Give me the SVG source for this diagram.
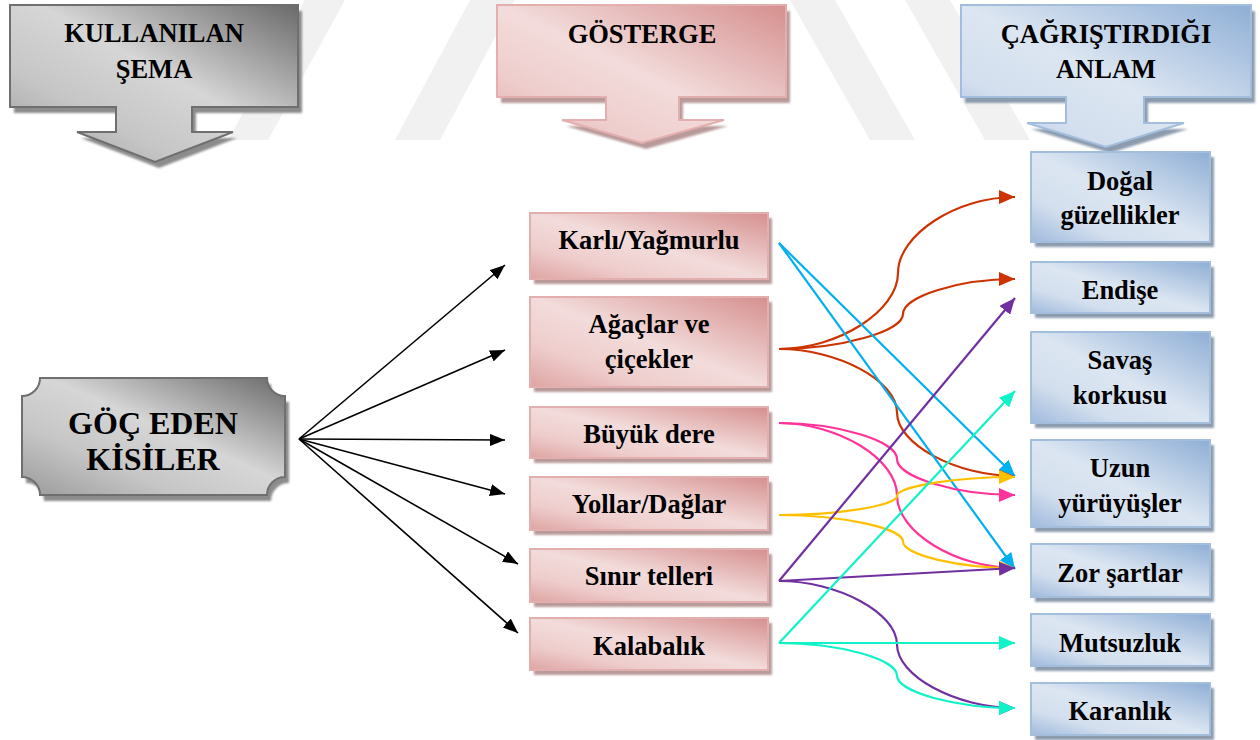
<svg xmlns="http://www.w3.org/2000/svg" width="1260" height="740" viewBox="0 0 1260 740" font-family="'Liberation Serif', 'Times New Roman', serif">
<defs>
<style>
text{font-family:'Liberation Serif','Times New Roman',serif;font-weight:700;fill:#000;text-anchor:middle}
.t26{font-size:26.5px}
.t32{font-size:32px}
.wm{fill:#f1f1f1}
.grayF{fill:url(#gGray);stroke:#6f6f6f;stroke-width:2}
.pinkF{fill:url(#gPink);stroke:#e3aeae;stroke-width:2}
.blueF{fill:url(#gBlue);stroke:#a3bddd;stroke-width:2}
.shGray{fill:#8c8c8c;filter:url(#blur)}
.shPink{fill:#b99a9a;filter:url(#blur)}
.shBlue{fill:#8d9bae;filter:url(#blur)}
.blk{fill:none;stroke:#000;stroke-width:1.6;marker-end:url(#mBlk)}
.c{fill:none;stroke-width:2.2}
</style>
<filter id="blur" x="-10%" y="-10%" width="120%" height="120%"><feGaussianBlur stdDeviation="1"/></filter>
<linearGradient id="gGray" x1="1" y1="0" x2="0" y2="1">
<stop offset="0" stop-color="#6a6a6a"/><stop offset="0.45" stop-color="#d6d6d6"/><stop offset="0.7" stop-color="#c6c6c6"/><stop offset="1" stop-color="#9a9a9a"/>
</linearGradient>
<linearGradient id="gPink" x1="1" y1="0" x2="0" y2="1">
<stop offset="0" stop-color="#d58f8e"/><stop offset="0.5" stop-color="#f2dcdb"/><stop offset="0.75" stop-color="#eecdcc"/><stop offset="1" stop-color="#dea4a3"/>
</linearGradient>
<linearGradient id="gBlue" x1="1" y1="0" x2="0" y2="1">
<stop offset="0" stop-color="#8eaed5"/><stop offset="0.5" stop-color="#dce6f2"/><stop offset="0.75" stop-color="#d3dfee"/><stop offset="1" stop-color="#9fbadd"/>
</linearGradient>
<marker id="mBlk" markerUnits="userSpaceOnUse" markerWidth="15" markerHeight="12" viewBox="0 0 15 12" refX="15" refY="6" orient="auto"><path d="M0,0 L15,6 L0,12 z" fill="#000"/></marker>
<marker id="mOr" markerUnits="userSpaceOnUse" markerWidth="16" markerHeight="14" viewBox="0 0 16 14" refX="16" refY="7" orient="auto"><path d="M0,0 L16,7 L0,14 z" fill="#cc3300"/></marker>
<marker id="mCy" markerUnits="userSpaceOnUse" markerWidth="16" markerHeight="14" viewBox="0 0 16 14" refX="16" refY="7" orient="auto"><path d="M0,0 L16,7 L0,14 z" fill="#00b0f0"/></marker>
<marker id="mPk" markerUnits="userSpaceOnUse" markerWidth="16" markerHeight="14" viewBox="0 0 16 14" refX="16" refY="7" orient="auto"><path d="M0,0 L16,7 L0,14 z" fill="#ff3399"/></marker>
<marker id="mYe" markerUnits="userSpaceOnUse" markerWidth="16" markerHeight="14" viewBox="0 0 16 14" refX="16" refY="7" orient="auto"><path d="M0,0 L16,7 L0,14 z" fill="#ffc000"/></marker>
<marker id="mPu" markerUnits="userSpaceOnUse" markerWidth="16" markerHeight="14" viewBox="0 0 16 14" refX="16" refY="7" orient="auto"><path d="M0,0 L16,7 L0,14 z" fill="#7030a0"/></marker>
<marker id="mAq" markerUnits="userSpaceOnUse" markerWidth="16" markerHeight="14" viewBox="0 0 16 14" refX="16" refY="7" orient="auto"><path d="M0,0 L16,7 L0,14 z" fill="#10f2c8"/></marker>
</defs>
<rect x="0" y="0" width="1260" height="740" fill="#fff"/>

<!-- faint background watermark -->
<g id="watermark">
<polygon class="wm" points="228,140 268,140 345,0 305,0"/>
<polygon class="wm" points="395,140 440,140 515,0 470,0"/>
<polygon class="wm" points="790,0 835,0 915,140 870,140"/>
<polygon class="wm" points="905,0 950,0 1030,140 985,140"/>
</g>

<!-- header callouts -->
<g id="hdr-sema">
<polygon class="shGray" transform="translate(4,6)" points="10,5 298,5 298,107 192,107 192,132 233,132 155,162 77,132 116,132 116,107 10,107"/>
<polygon class="grayF" points="10,5 298,5 298,107 192,107 192,132 233,132 155,162 77,132 116,132 116,107 10,107"/>
<text class="t26" x="154" y="42">KULLANILAN</text>
<text class="t26" x="154" y="78">ŞEMA</text>
</g>
<g id="hdr-gosterge">
<polygon class="shPink" transform="translate(4,6)" points="497,5 786,5 786,97 679,97 679,120 724,120 642,143 562,120 606,120 606,97 497,97"/>
<polygon class="pinkF" points="497,5 786,5 786,97 679,97 679,120 724,120 642,143 562,120 606,120 606,97 497,97"/>
<text class="t26" x="642" y="43">GÖSTERGE</text>
</g>
<g id="hdr-anlam">
<polygon class="shBlue" transform="translate(4,6)" points="961,5 1251,5 1251,97 1144,97 1144,123 1184,123 1106,147 1027,123 1066,123 1066,97 961,97"/>
<polygon class="blueF" points="961,5 1251,5 1251,97 1144,97 1144,123 1184,123 1106,147 1027,123 1066,123 1066,97 961,97"/>
<text class="t26" x="1106" y="43">ÇAĞRIŞTIRDIĞI</text>
<text class="t26" x="1106" y="78">ANLAM</text>
</g>

<!-- source node -->
<g id="goc-eden">
<path class="shGray" transform="translate(4,6)" d="M40,378 L267,378 A18,18 0 0 0 285,396 L285,477 A18,18 0 0 0 267,495 L40,495 A18,18 0 0 0 22,477 L22,396 A18,18 0 0 0 40,378 Z"/>
<path class="grayF" d="M40,378 L267,378 A18,18 0 0 0 285,396 L285,477 A18,18 0 0 0 267,495 L40,495 A18,18 0 0 0 22,477 L22,396 A18,18 0 0 0 40,378 Z"/>
<text class="t32" x="153" y="434">GÖÇ EDEN</text>
<text class="t32" x="153" y="470">KİSİLER</text>
</g>

<!-- middle nodes -->
<g id="karli">
<rect class="shPink" x="534" y="218" width="238" height="66"/>
<rect class="pinkF" x="530" y="213" width="238" height="66"/>
<text class="t26" x="649" y="249">Karlı/Yağmurlu</text>
</g>
<g id="agaclar">
<rect class="shPink" x="534" y="302" width="238" height="90"/>
<rect class="pinkF" x="530" y="297" width="238" height="90"/>
<text class="t26" x="649" y="333">Ağaçlar ve</text>
<text class="t26" x="649" y="368">çiçekler</text>
</g>
<g id="buyuk-dere">
<rect class="shPink" x="534" y="412" width="238" height="51"/>
<rect class="pinkF" x="530" y="407" width="238" height="51"/>
<text class="t26" x="649" y="443">Büyük dere</text>
</g>
<g id="yollar">
<rect class="shPink" x="534" y="482" width="238" height="53"/>
<rect class="pinkF" x="530" y="477" width="238" height="53"/>
<text class="t26" x="649" y="513">Yollar/Dağlar</text>
</g>
<g id="sinir">
<rect class="shPink" x="534" y="554" width="238" height="53"/>
<rect class="pinkF" x="530" y="549" width="238" height="53"/>
<text class="t26" x="649" y="585">Sınır telleri</text>
</g>
<g id="kalabalik">
<rect class="shPink" x="534" y="623" width="238" height="52"/>
<rect class="pinkF" x="530" y="618" width="238" height="52"/>
<text class="t26" x="649" y="655">Kalabalık</text>
</g>

<!-- right nodes -->
<g id="dogal">
<rect class="shBlue" x="1035" y="157" width="179" height="90"/>
<rect class="blueF" x="1031" y="152" width="179" height="90"/>
<text class="t26" x="1120" y="190">Doğal</text>
<text class="t26" x="1120" y="224">güzellikler</text>
</g>
<g id="endise">
<rect class="shBlue" x="1035" y="267" width="179" height="51"/>
<rect class="blueF" x="1031" y="262" width="179" height="51"/>
<text class="t26" x="1120" y="299">Endişe</text>
</g>
<g id="savas">
<rect class="shBlue" x="1035" y="337" width="179" height="91"/>
<rect class="blueF" x="1031" y="332" width="179" height="91"/>
<text class="t26" x="1120" y="369">Savaş</text>
<text class="t26" x="1120" y="404">korkusu</text>
</g>
<g id="uzun">
<rect class="shBlue" x="1035" y="445" width="179" height="87"/>
<rect class="blueF" x="1031" y="440" width="179" height="87"/>
<text class="t26" x="1120" y="477">Uzun</text>
<text class="t26" x="1120" y="512">yürüyüşler</text>
</g>
<g id="zor">
<rect class="shBlue" x="1035" y="549" width="179" height="53"/>
<rect class="blueF" x="1031" y="544" width="179" height="53"/>
<text class="t26" x="1120" y="582">Zor şartlar</text>
</g>
<g id="mutsuzluk">
<rect class="shBlue" x="1035" y="619" width="179" height="52"/>
<rect class="blueF" x="1031" y="614" width="179" height="52"/>
<text class="t26" x="1120" y="652">Mutsuzluk</text>
</g>
<g id="karanlik">
<rect class="shBlue" x="1035" y="688" width="179" height="52"/>
<rect class="blueF" x="1031" y="683" width="179" height="52"/>
<text class="t26" x="1120" y="720">Karanlık</text>
</g>

<!-- connectors -->
<g id="connectors">
<path class="blk" d="M299,439 L505,265"/>
<path class="blk" d="M299,439 L505,350"/>
<path class="blk" d="M299,439 L505,440"/>
<path class="blk" d="M299,439 L505,494"/>
<path class="blk" d="M299,439 L518,564"/>
<path class="blk" d="M299,439 L518,633"/>

<path class="c" stroke="#cc3300" marker-end="url(#mOr)" d="M779,349 C838,349 898,311 898,273 C898,235 956,197 1015,197"/>
<path class="c" stroke="#cc3300" marker-end="url(#mOr)" d="M779,349 C840,349 903,331.5 903,314 C903,296.5 959,279 1015,279"/>
<path class="c" stroke="#cc3300" marker-end="url(#mOr)" d="M779,349 C838,349 897,380.75 897,412.5 C897,444.25 956,476 1015,476"/>

<path class="c" stroke="#00b0f0" marker-end="url(#mCy)" d="M779,243 L1015,476"/>
<path class="c" stroke="#00b0f0" marker-end="url(#mCy)" d="M779,243 L1015,569"/>

<path class="c" stroke="#ff3399" marker-end="url(#mPk)" d="M779,423 C838,423 897,441 897,459 C897,477 956,495 1015,495"/>
<path class="c" stroke="#ff3399" marker-end="url(#mPk)" d="M779,423 C838,423 897,459 897,495.5 C897,532 956,568 1015,568"/>

<path class="c" stroke="#ffc000" marker-end="url(#mYe)" d="M779,515 C838,515 897,505.5 897,496 C897,486.5 956,477 1015,477"/>
<path class="c" stroke="#ffc000" marker-end="url(#mYe)" d="M779,515 C840,515 903,528 903,541.5 C903,555 959,568 1015,568"/>

<path class="c" stroke="#7030a0" marker-end="url(#mPu)" d="M779,581 L1015,298"/>
<path class="c" stroke="#7030a0" marker-end="url(#mPu)" d="M779,581 L1015,568"/>
<path class="c" stroke="#7030a0" marker-end="url(#mPu)" d="M779,581 C838,581 897,613 897,644.5 C897,676 956,708 1015,708"/>

<path class="c" stroke="#10f2c8" marker-end="url(#mAq)" d="M779,643 L1015,391"/>
<path class="c" stroke="#10f2c8" marker-end="url(#mAq)" d="M779,643 L1015,643"/>
<path class="c" stroke="#10f2c8" marker-end="url(#mAq)" d="M779,643 C838,643 897,659 897,675.5 C897,692 956,708 1015,708"/>
</g>
</svg>
